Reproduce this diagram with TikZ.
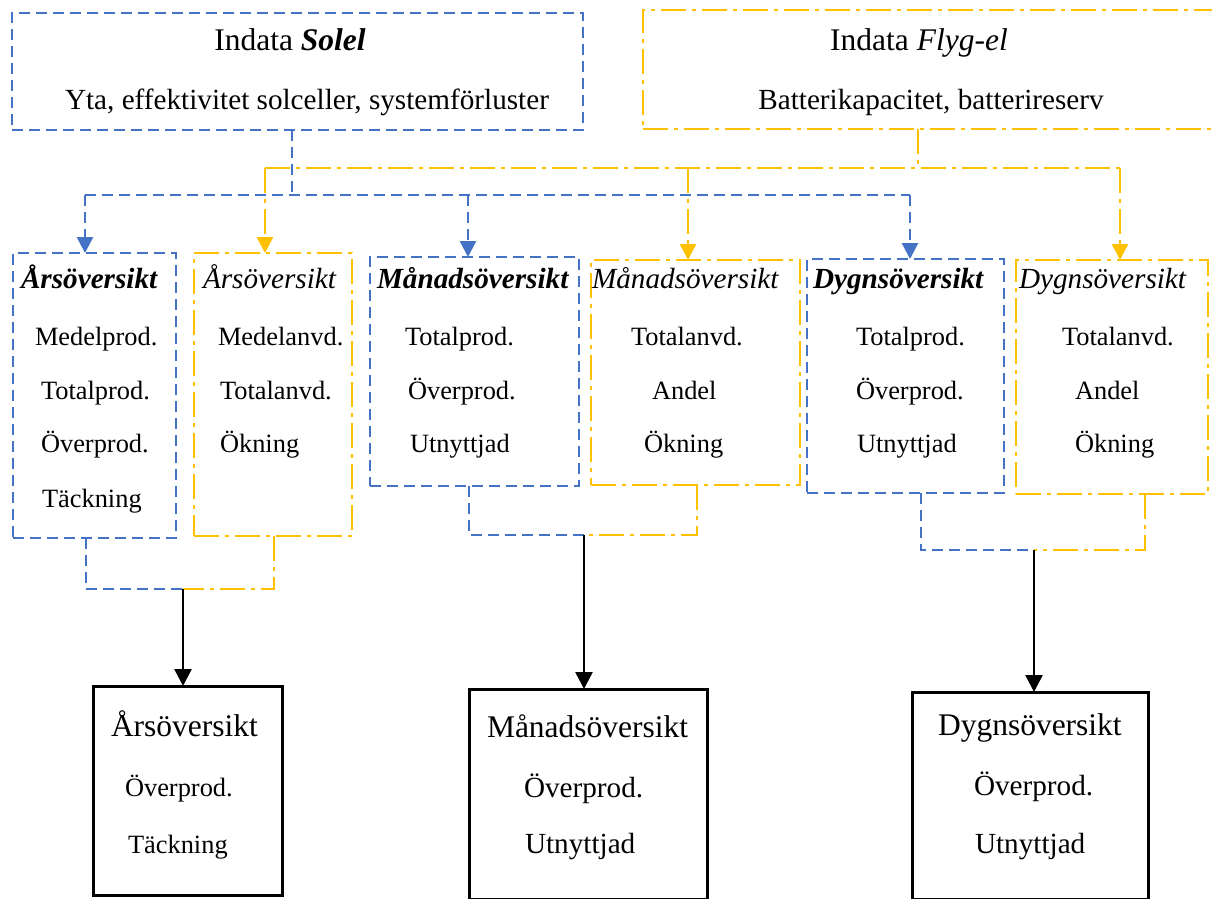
\documentclass[tikz,border=0pt]{standalone}
\usepackage{fontspec}
\setmainfont{Liberation Serif}
\usetikzlibrary{arrows.meta}
\definecolor{blueC}{HTML}{4472C4}
\definecolor{yelC}{HTML}{FFC000}
\newcommand{\fA}{\fontsize{31.5}{36}\selectfont}
\newcommand{\fB}{\fontsize{29.2}{34}\selectfont}
\newcommand{\fC}{\fontsize{26.4}{30}\selectfont}
\begin{document}
\begin{tikzpicture}[x=1pt,y=-1pt,
  bdash/.style={draw=blueC, line width=2.7pt, dash pattern=on 11pt off 6pt},
  ydash/.style={draw=yelC, line width=2.7pt, dash pattern=on 25pt off 6pt on 4pt off 6pt},
  bbox/.style={bdash, inner sep=0pt, outer sep=0pt},
  ybox/.style={ydash, inner sep=0pt, outer sep=0pt},
  kbox/.style={draw=black, line width=3pt, inner sep=0pt, outer sep=0pt},
  barrow/.style={bdash, -{Triangle[width=16pt,length=16pt]}, blueC},
  yarrow/.style={ydash, -{Triangle[width=16pt,length=16pt]}, yelC},
  karrow/.style={draw=black, line width=2.5pt, -{Triangle[width=17pt,length=17pt]}},
  txt/.style={anchor=base west, inner sep=0pt, outer sep=0pt},
  ctxt/.style={anchor=base, inner sep=0pt, outer sep=0pt}]
\useasboundingbox (0,0) rectangle (1212,898);
% top boxes
\node[bbox, minimum width=571pt, minimum height=117pt] (solel) at (297.5,71.5) {};
\node[ybox, minimum width=577pt, minimum height=119pt] (flyg) at (931.5,69.5) {};
\node[ctxt] (s1) at (290,50) {\fA Indata \textbf{\textit{Solel}}};
\node[ctxt] (s2) at (307,109) {\fB Yta, effektivitet solceller, systemförluster};
\node[ctxt] (f1) at (919,50) {\fA Indata \textit{Flyg-el}};
\node[ctxt] (f2) at (931,109) {\fB Batterikapacitet, batterireserv};
% middle boxes
\node[bbox, minimum width=163pt, minimum height=285pt] (bA) at (94.5,395.5) {};
\node[ybox, minimum width=158pt, minimum height=283pt] (yA) at (273,394.5) {};
\node[bbox, minimum width=209pt, minimum height=229pt] (bM) at (474.5,371.5) {};
\node[ybox, minimum width=209pt, minimum height=225pt] (yM) at (695.5,372.5) {};
\node[bbox, minimum width=197pt, minimum height=234pt] (bD) at (905.5,376) {};
\node[ybox, minimum width=192pt, minimum height=234pt] (yD) at (1112,377) {};
% texts middle
\node[txt] (a0) at (21,288) {\fB\textbf{\textit{Årsöversikt}}};
\node[txt] (a1) at (35,345) {\fC Medelprod.};
\node[txt] (a2) at (41,399) {\fC Totalprod.};
\node[txt] (a3) at (41,452) {\fC Överprod.};
\node[txt] (a4) at (42,507) {\fC Täckning};
\node[txt] (c0) at (203,288) {\fB\textit{Årsöversikt}};
\node[txt] (c1) at (218,345) {\fC Medelanvd.};
\node[txt] (c2) at (220,399) {\fC Totalanvd.};
\node[txt] (c3) at (220,452) {\fC Ökning};
\node[txt] (m0) at (377,288) {\fB\textbf{\textit{Månadsöversikt}}};
\node[txt] (m1) at (405,345) {\fC Totalprod.};
\node[txt] (m2) at (408,399) {\fC Överprod.};
\node[txt] (m3) at (410,452) {\fC Utnyttjad};
\node[txt] (n0) at (592,288) {\fB\textit{Månadsöversikt}};
\node[txt] (n1) at (631,345) {\fC Totalanvd.};
\node[txt] (n2) at (652,399) {\fC Andel};
\node[txt] (n3) at (644,452) {\fC Ökning};
\node[txt] (d0) at (813,288) {\fB\textbf{\textit{Dygnsöversikt}}};
\node[txt] (d1) at (856,345) {\fC Totalprod.};
\node[txt] (d2) at (856,399) {\fC Överprod.};
\node[txt] (d3) at (857,452) {\fC Utnyttjad};
\node[txt] (e0) at (1019,288) {\fB\textit{Dygnsöversikt}};
\node[txt] (e1) at (1062,345) {\fC Totalanvd.};
\node[txt] (e2) at (1075,399) {\fC Andel};
\node[txt] (e3) at (1075,452) {\fC Ökning};
% bottom boxes
\node[kbox, minimum width=189pt, minimum height=209pt] (oA) at (187.5,790.5) {};
\node[kbox, minimum width=238pt, minimum height=210pt] (oM) at (588,794) {};
\node[kbox, minimum width=236pt, minimum height=207pt] (oD) at (1030,795.5) {};
\node[txt] (p0) at (111,736) {\fA Årsöversikt};
\node[txt] (p1) at (125,796) {\fC Överprod.};
\node[txt] (p2) at (128,853) {\fC Täckning};
\node[txt] (q0) at (487,737) {\fA Månadsöversikt};
\node[txt] (q1) at (524,797) {\fB Överprod.};
\node[txt] (q2) at (525,853) {\fB Utnyttjad};
\node[txt] (r0) at (938,735) {\fA Dygnsöversikt};
\node[txt] (r1) at (974,795) {\fB Överprod.};
\node[txt] (r2) at (975,853) {\fB Utnyttjad};
% top connectors
\coordinate (bj) at (292,195);
\coordinate (yj) at (918,168);
\draw[ydash] (flyg.south -| yj) -- (yj);
\draw[ydash] ([xshift=-8pt]yA.north |- yj) -- ([xshift=8pt]yD.north |- yj);
\draw[yarrow] ([xshift=-8pt]yA.north |- yj) -- ([xshift=-8pt]yA.north);
\draw[yarrow] ([xshift=-7.5pt]yM.north |- yj) -- ([xshift=-7.5pt]yM.north);
\draw[yarrow] ([xshift=8pt]yD.north |- yj) -- ([xshift=8pt]yD.north);
\draw[bdash] (solel.south -| bj) -- (bj);
\draw[bdash] ([xshift=-9.5pt]bA.north |- bj) -- ([xshift=4.5pt]bD.north |- bj);
\draw[barrow] ([xshift=-9.5pt]bA.north |- bj) -- ([xshift=-9.5pt]bA.north);
\draw[barrow] ([xshift=-6.5pt]bM.north |- bj) -- ([xshift=-6.5pt]bM.north);
\draw[barrow] ([xshift=4.5pt]bD.north |- bj) -- ([xshift=4.5pt]bD.north);
% bottom connectors
\coordinate (jA) at (183,589);
\coordinate (jM) at (584,535);
\coordinate (jD) at (1034,550);
\draw[bdash] ([xshift=-8.5pt]bA.south) |- (jA);
\draw[ydash] ([xshift=1pt]yA.south) |- (jA);
\draw[karrow] (jA) -- ([xshift=-4.5pt]oA.north);
\draw[bdash] ([xshift=-5.5pt]bM.south) |- (jM);
\draw[ydash] ([xshift=1.5pt]yM.south) |- (jM);
\draw[karrow] (jM) -- ([xshift=-4pt]oM.north);
\draw[bdash] ([xshift=15.5pt]bD.south) |- (jD);
\draw[ydash] ([xshift=33pt]yD.south) |- (jD);
\draw[karrow] (jD) -- ([xshift=4pt]oD.north);
\end{tikzpicture}
\end{document}
